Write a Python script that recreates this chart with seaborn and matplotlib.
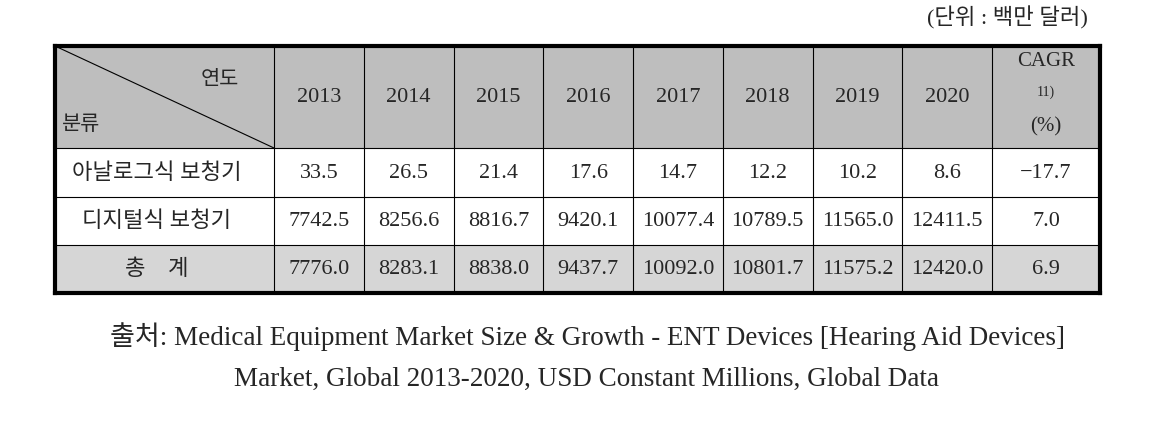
import numpy as np
import matplotlib.pyplot as plt
import seaborn as sns
from matplotlib.colors import ListedColormap

# table data (백만 달러)
years = ['2013', '2014', '2015', '2016', '2017', '2018', '2019', '2020']
categories = ['아날로그식 보청기', '디지털식 보청기', '총    계']
analog = [33.5, 26.5, 21.4, 17.6, 14.7, 12.2, 10.2, 8.6]
digital = [7742.5, 8256.6, 8816.7, 9420.1, 10077.4, 10789.5, 11565.0, 12411.5]
total = [7776.0, 8283.1, 8838.0, 9437.7, 10092.0, 10801.7, 11575.2, 12420.0]
cagr = [-17.7, 7.0, 6.9]

unit_note = '(단위 : 백만 달러)'
source_1 = '출처: Medical Equipment Market Size & Growth - ENT Devices [Hearing Aid Devices]'
source_2 = 'Market, Global 2013-2020, USD Constant Millions, Global Data'

sns.set_theme(style='white')
plt.rcParams['font.family'] = ['Liberation Serif', 'Noto Sans CJK KR']

# layout of the grid (pixels)
col_w = [219] + [89.75] * len(years) + [108]
row_h = [102, 49, 48, 48]
x_edges = np.concatenate([[0], np.cumsum(col_w)])
y_edges = np.concatenate([[0], np.cumsum(row_h)])
x_mid = (x_edges[:-1] + x_edges[1:]) / 2
y_mid = (y_edges[:-1] + y_edges[1:]) / 2

# shade codes: 0 white, 1 light grey (total), 2 grey (header)
shade = np.zeros((len(row_h), len(col_w)))
shade[0, :] = 2
shade[-1, :] = 1
cmap = ListedColormap(['white', '#d6d6d6', '#bebebe'])

fig = plt.figure(figsize=(11.74, 4.39), dpi=100)
ax = fig.add_axes([55 / 1174, 1 - 294 / 439, 1045 / 1174, 247 / 439])
ax.pcolormesh(x_edges, y_edges, shade, cmap=cmap, vmin=0, vmax=2,
              edgecolors='face', linewidth=0)
ax.vlines(x_edges[1:-1], y_edges[0], y_edges[-1], color='black', lw=0.8)
ax.hlines(y_edges[1:-1], x_edges[0], x_edges[-1], color='black', lw=0.8)
ax.set_xlim(x_edges[0], x_edges[-1])
ax.set_ylim(y_edges[-1], y_edges[0])
ax.set_xticks([])
ax.set_yticks([])
for s in ax.spines.values():
    s.set_visible(True)
    s.set_color('black')
    s.set_linewidth(3)

# diagonal header cell
ax.plot([x_edges[0], x_edges[1]], [y_edges[0], y_edges[1]], color='black', lw=0.8)
ax.text(165, 34, '연도', ha='center', va='center', fontsize=15)
ax.text(7, 78, '분류', ha='left', va='center', fontsize=15)

for i, yr in enumerate(years):
    ax.text(x_mid[i + 1], y_mid[0], yr, ha='center', va='center', fontsize=16)
ax.text(x_mid[-1], 15, 'CAGR', ha='center', va='center', fontsize=15)
ax.text(x_mid[-1], 45, '11)', ha='center', va='center', fontsize=10)
ax.text(x_mid[-1], 80, '(%)', ha='center', va='center', fontsize=15)

rows = [analog, digital, total]
for r, (name, vals) in enumerate(zip(categories, rows)):
    yc = y_mid[r + 1]
    ax.text(x_mid[0] - 8, yc, name, ha='center', va='center', fontsize=16)
    for c, v in enumerate(vals):
        ax.text(x_mid[c + 1], yc, f'{v:.1f}', ha='center', va='center', fontsize=16)
    ax.text(x_mid[-1], yc, f'{cagr[r]:.1f}'.replace('-', '\u2212'),
            ha='center', va='center', fontsize=16)

fig.text(1088 / 1174, 1 - 18 / 439, unit_note, ha='right', va='center', fontsize=16)
fig.text(0.5, 1 - 337 / 439, source_1, ha='center', va='center', fontsize=19.5)
fig.text(0.5, 1 - 379 / 439, source_2, ha='center', va='center', fontsize=19.5)

fig.savefig('out.png', dpi=100)
